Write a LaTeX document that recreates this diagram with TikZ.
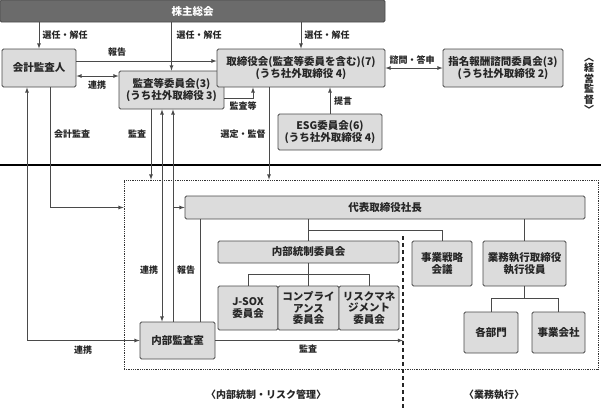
\documentclass[tikz,border=0pt]{standalone}
\usepackage{fontspec}
\setmainfont{Noto Sans CJK JP}
\definecolor{boxgray}{HTML}{DCDCDC}
\definecolor{bargray}{HTML}{6B6B6B}
\definecolor{linegray}{HTML}{4A4A4A}

\begin{document}
\begin{tikzpicture}[
  x=1pt, y=-1pt,
  >=latex,
  box/.style={
    rectangle,
    rounded corners=1.5pt,
    fill=boxgray,
    draw=linegray,
    line width=0.8pt,
    align=center,
    inner sep=1pt,
    font=\fontsize{10.5}{11.8}\selectfont\bfseries,
    text=black!85
  },
  lbl/.style={
    font=\fontsize{9}{10}\selectfont\bfseries,
    inner sep=0pt,
    text=black!85
  },
  conn/.style={draw=linegray, line width=0.8pt}
]
\useasboundingbox (0,0) rectangle (601,408);
% upper half
\node[box, fill=bargray, text=white, minimum width=385pt, minimum height=22pt] (soukai) at (192.5,11) {株主総会};
\node[box, minimum width=74pt, minimum height=38pt] (kansanin) at (39,68) {会計監査人};
\node[box, minimum width=105pt, minimum height=38pt] (kansatou) at (171.5,90) {監査等委員会(3)\\(うち社外取締役\ 3)};
\node[box, minimum width=168pt, minimum height=38pt] (torishimari) at (301,68) {取締役会(監査等委員を含む)(7)\\(うち社外取締役\ 4)};
\node[box, minimum width=120pt, minimum height=38pt] (shimei) at (503,68) {指名報酬諮問委員会(3)\\(うち社外取締役\ 2)};
\node[box, minimum width=104pt, minimum height=36pt] (esg) at (330,132) {ESG委員会(6)\\(うち社外取締役\ 4)};
\node[lbl, align=center, font=\fontsize{10}{10.5}\selectfont\bfseries] (keiei) at (589,86) {︿\\経\\営\\監\\督\\﹀};

\foreach \n in {kansanin,kansatou,torishimari}
  \draw[conn,->] (soukai.south -| \n) -- (\n);
\node[lbl] (sennin1) at (65,35) {選任・解任};
\node[lbl] (sennin2) at (199,35) {選任・解任};
\node[lbl] (sennin3) at (327,35) {選任・解任};

\draw[conn,->] ([yshift=7pt]kansanin.east) -- ([yshift=7pt]kansanin.east -| torishimari.west);
\node[lbl] (houkoku1) at (117,52) {報告};
\draw[conn,<->] ([yshift=-8pt]kansanin.east) -- ([yshift=-8pt]kansanin.east -| kansatou.west);
\node[lbl] (renkei1) at (97,85) {連携};
\draw[conn,->] ([yshift=-8pt]kansatou.east) -| ([xshift=-48pt]torishimari.south);
\node[lbl] (kansatoulbl) at (243,106) {監査等};
\draw[conn,<->] (torishimari) -- (shimei);
\node[lbl] (shimon) at (412,60) {諮問・答申};
\draw[conn,->] (esg) -- (esg |- torishimari.south);
\node[lbl] (teigen) at (343,101) {提言};

\draw[line width=1.2pt] (0,165) -- (601,165);

% lower half
\node[draw=black!80, densely dotted, line width=0.8pt, minimum width=474pt, minimum height=189pt] (waku) at (361,274.5) {};
\node[box, minimum width=400pt, minimum height=23pt] (daihyo) at (385,207.5) {代表取締役社長};
\node[box, minimum width=181pt, minimum height=22pt] (naibutousei) at (308.5,252) {内部統制委員会};
\node[box, minimum width=60pt, minimum height=44pt] (jsox) at (248,308) {J-SOX\\委員会};
\node[box, minimum width=61pt, minimum height=44pt] (comp) at (308.5,308) {コンプライ\\アンス\\委員会};
\node[box, minimum width=60pt, minimum height=44pt] (risk) at (369,308) {リスクマネ\\ジメント\\委員会};
\node[box, minimum width=60pt, minimum height=45pt] (jigyo) at (442,263.5) {事業戦略\\会議};
\node[box, minimum width=83pt, minimum height=45pt] (gyomu) at (524.5,263.5) {業務執行取締役\\執行役員};
\node[box, minimum width=54pt, minimum height=41pt] (kakubu) at (491,332.5) {各部門};
\node[box, minimum width=53pt, minimum height=41pt] (kaisha) at (558.5,332.5) {事業会社};
\node[box, minimum width=75pt, minimum height=37pt] (naibukansa) at (177.5,340.5) {内部監査室};

\coordinate (hokoku) at (173,207.5);
\coordinate (bunki) at (308.5,230);
\coordinate (kugiri) at (403,236);

\draw[conn,->] ([xshift=11pt]kansanin.south) |- (waku.west |- hokoku);
\node[lbl] (kaikei) at (72,134) {会計監査};
\draw[conn,<->] (naibukansa.west) -| ([xshift=-12pt]kansanin.south);
\node[lbl] (renkei3) at (83,350) {連携};
\draw[conn,->] ([xshift=-20.5pt]kansatou.south) -- ([xshift=-20.5pt]kansatou.south |- waku.north);
\node[lbl] (kansa1) at (137,134) {監査};
\draw[conn,->] ([xshift=-32pt]torishimari.south) -- ([xshift=-32pt]torishimari.south |- waku.north);
\node[lbl] (sentei) at (243,134) {選定・監督};
\draw[conn,<->] ([xshift=-15.5pt]naibukansa.north) -- ([xshift=-15.5pt]naibukansa.north |- kansatou.south);
\node[lbl] (renkei2) at (149,270) {連携};
\draw[conn,->] (naibukansa.north -| hokoku) -- (kansatou.south -| hokoku);
\draw[conn,->] (hokoku) -- (daihyo.west);
\node[lbl] (houkoku2) at (186,270) {報告};
\draw[conn] ([xshift=22.5pt]naibukansa.north) -- ([xshift=22.5pt]naibukansa.north |- daihyo.south);
\draw[conn,->] (naibukansa.east) -- (naibukansa.east -| kugiri);
\node[lbl] (kansa2) at (308,349) {監査};

\draw[conn] (naibutousei.north |- daihyo.south) -- (naibutousei.north);
\draw[conn] (bunki) -| (jigyo.north);
\draw[conn] (gyomu.north |- daihyo.south) -- (gyomu.north);
\draw[conn] (naibutousei.south) -- (comp.north);
\draw[conn] (jsox.north) -- ++(0,-11) -| (risk.north);
\draw[conn] (gyomu.south) -- ++(0,13);
\draw[conn] (kakubu.north) -- ++(0,-13) -| (kaisha.north);

\draw[black!85, line width=1.5pt, dash pattern=on 4pt off 3pt] (kugiri) -- (403,408);
\node[lbl, font=\fontsize{10}{11}\selectfont\bfseries] (risklbl) at (266,395) {〈内部統制・リスク管理〉};
\node[lbl, font=\fontsize{10}{11}\selectfont\bfseries] (gyomulbl) at (494,395) {〈業務執行〉};
\end{tikzpicture}
\end{document}
